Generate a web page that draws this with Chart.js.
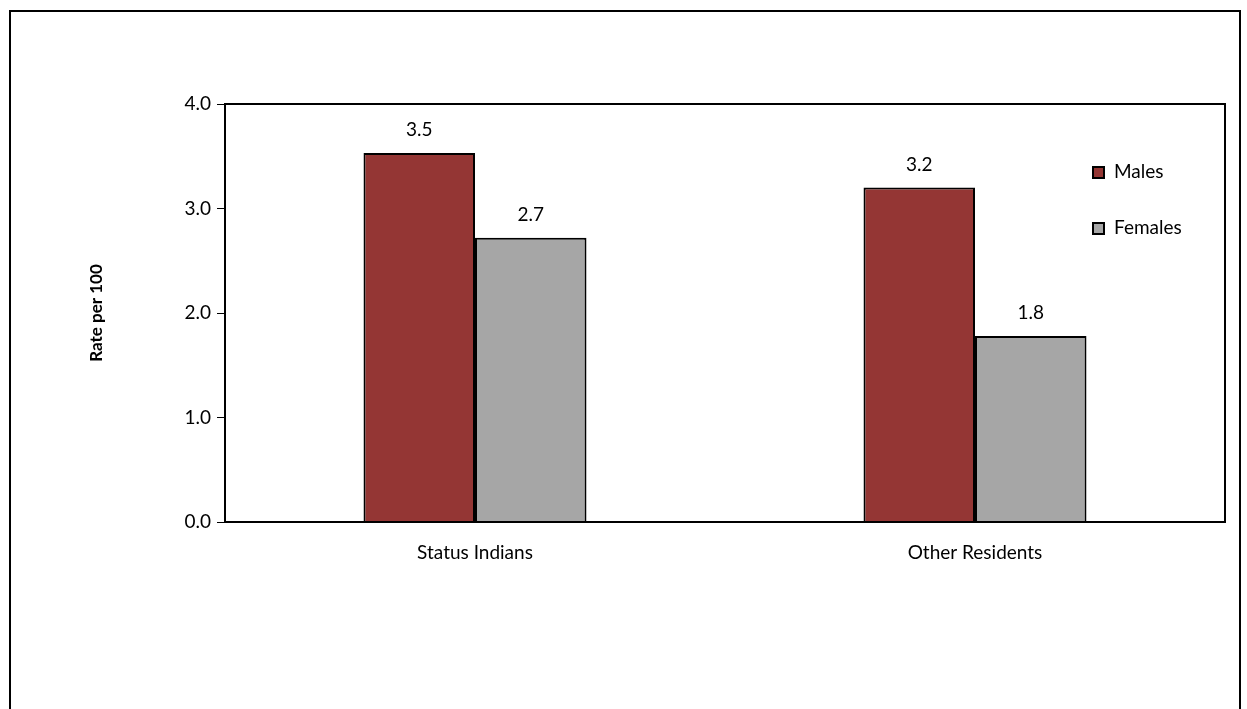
<!DOCTYPE html>
<html>
<head>
<meta charset="utf-8">
<script src="https://cdn.jsdelivr.net/npm/chart.js@4"></script>
<style>
    body { margin: 0; background: #fff; }
    .frame {
        position: absolute; left: 9px; top: 10px;
        width: 1228px; height: 720px;
        border: 2px solid #000;
    }
    .wrap { position: absolute; left: 0; top: 0; width: 1247px; height: 709px; }
</style>
</head>
<body>
<div class="frame"></div>
<div class="wrap"><canvas id="chart" width="1247" height="709"></canvas></div>
<script>
const categories = ['Status Indians', 'Other Residents'];
const males = [3.53, 3.2];
const females = [2.72, 1.78];
const seriesNames = ['Males', 'Females'];
const yTicks = [0, 1, 2, 3, 4];

const FONT = "Lato, 'Noto Sans', sans-serif";

// value labels above each bar
const valueLabels = {
    id: 'valueLabels',
    afterDatasetsDraw(chart) {
        const ctx = chart.ctx;
        ctx.save();
        ctx.fillStyle = '#000';
        ctx.font = '19px ' + FONT;
        ctx.textAlign = 'center';
        ctx.textBaseline = 'middle';
        chart.data.datasets.forEach((ds, i) => {
            chart.getDatasetMeta(i).data.forEach((bar, j) => {
                ctx.fillText(ds.data[j].toFixed(1), bar.x, bar.y - 23);
            });
        });
        ctx.restore();
    }
};

// box around plot area + legend inside
const boxAndLegend = {
    id: 'boxAndLegend',
    afterDraw(chart) {
        const ctx = chart.ctx;
        const a = chart.chartArea;
        ctx.save();
        ctx.strokeStyle = '#000';
        ctx.lineWidth = 2;
        ctx.strokeRect(a.left, a.top, a.right - a.left, a.bottom - a.top);

        ctx.font = '19px ' + FONT;
        ctx.textBaseline = 'middle';
        ctx.textAlign = 'left';
        chart.data.datasets.forEach((ds, i) => {
            const y = 172 + i * 56;
            ctx.fillStyle = ds.backgroundColor;
            ctx.fillRect(1093, y - 5, 11, 11);
            ctx.lineWidth = 2;
            ctx.strokeRect(1093, y - 5, 11, 11);
            ctx.fillStyle = '#000';
            ctx.fillText(ds.label, 1114, y);
        });
        ctx.restore();
    }
};

new Chart(document.getElementById('chart'), {
    type: 'bar',
    data: {
        labels: categories,
        datasets: [
            { label: seriesNames[0], data: males, backgroundColor: '#943634', borderColor: '#000', borderWidth: 2 },
            { label: seriesNames[1], data: females, backgroundColor: '#A6A6A6', borderColor: '#000', borderWidth: 2 }
        ]
    },
    options: {
        responsive: false,
        animation: false,
        layout: { padding: { left: 86, right: 22, top: 104, bottom: 137 } },
        datasets: {
            bar: { categoryPercentage: 0.446, barPercentage: 1 }
        },
        plugins: {
            legend: { display: false },
            tooltip: { enabled: false }
        },
        scales: {
            x: {
                grid: { display: false },
                border: { color: '#000', width: 2 },
                ticks: { color: '#000', font: { size: 19, family: FONT }, padding: 11 },
                afterFit: (s) => { s.height = 50; }
            },
            y: {
                min: 0,
                max: 4,
                afterBuildTicks: (s) => { s.ticks = yTicks.map(v => ({ value: v })); },
                grid: { drawOnChartArea: false, drawTicks: true, tickLength: 8, color: '#000', lineWidth: 1 },
                border: { color: '#000', width: 2 },
                ticks: {
                    color: '#000',
                    font: { size: 19, family: FONT },
                    padding: 6,
                    callback: (v) => v.toFixed(1)
                },
                title: {
                    display: true,
                    text: 'Rate per 100',
                    color: '#000',
                    font: { size: 17, weight: 'bold', family: FONT },
                    padding: 0
                },
                afterFit: (s) => { s.width = 139; }
            }
        }
    },
    plugins: [valueLabels, boxAndLegend]
});
</script>
</body>
</html>
